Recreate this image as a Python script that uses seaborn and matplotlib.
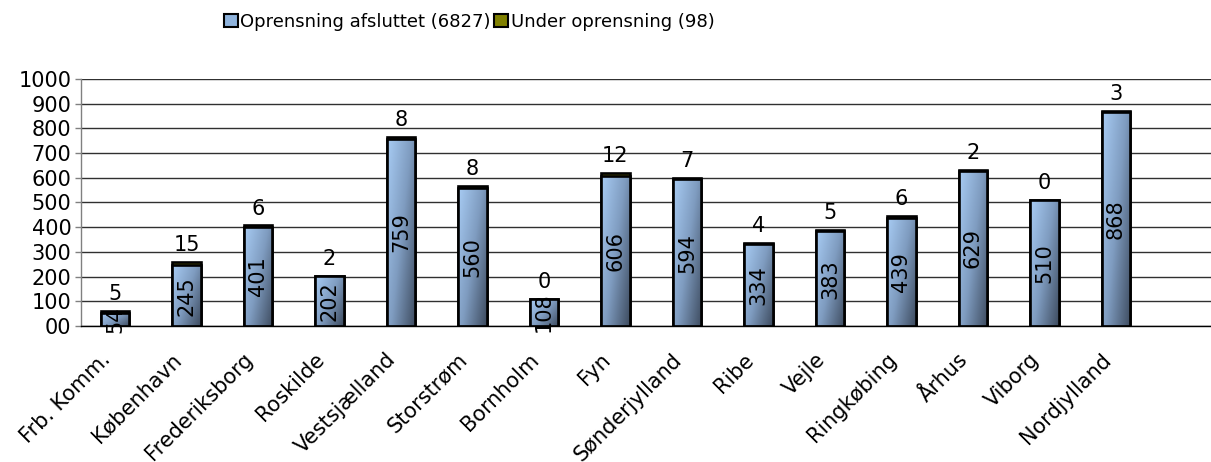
import numpy as np
import pandas as pd
import matplotlib
matplotlib.use("Agg")
import matplotlib.pyplot as plt
import matplotlib.transforms as mtransforms
import seaborn as sns
from matplotlib.patches import Patch

categories = ["Frb. Komm.", "København", "Frederiksborg", "Roskilde", "Vestsjælland",
              "Storstrøm", "Bornholm", "Fyn", "Sønderjylland", "Ribe", "Vejle",
              "Ringkøbing", "Århus", "Viborg", "Nordjylland"]
afsluttet = [54, 245, 401, 202, 759, 560, 108, 606, 594, 334, 383, 439, 629, 510, 868]
under = [5, 15, 6, 2, 8, 8, 0, 12, 7, 4, 5, 6, 2, 0, 3]
series_names = ["Oprensning afsluttet (6827)", "Under oprensning (98)"]
y_ticks = [0, 100, 200, 300, 400, 500, 600, 700, 800, 900, 1000]
y_tick_labels = ["00", "100", "200", "300", "400", "500", "600", "700", "800", "900", "1000"]

sns.set_theme(style="white")
plt.rcParams['font.family'] = ['DejaVu Sans']
plt.rcParams['text.color'] = 'black'
plt.rcParams['xtick.color'] = 'black'
plt.rcParams['ytick.color'] = 'black'
plt.rcParams['xtick.labelcolor'] = 'black'
plt.rcParams['ytick.labelcolor'] = 'black'

df = pd.DataFrame({"cat": categories, "done": afsluttet, "under": under})
df["total"] = df["done"] + df["under"]

fig = plt.figure(figsize=(12.11, 4.62), dpi=100)
ax = fig.add_axes([81/1211, 1-326/462, 1130/1211, (326-79)/462])

sns.barplot(data=df, x="cat", y="total", color="#808000", width=0.4, ax=ax,
            edgecolor="black", linewidth=1.9, saturation=1)
n = len(categories)
sns.barplot(data=df, x="cat", y="done", color="#8fb3dc", width=0.4, ax=ax,
            edgecolor="black", linewidth=1.9, saturation=1)

patches = ax.patches
tot_patches = patches[:n]
done_patches = patches[n:2*n]
for p in tot_patches:
    p.set_zorder(2)

# gradient
cmap = matplotlib.colors.LinearSegmentedColormap.from_list(
    "g", ["#a8ccf4", "#7f9cc0", "#3e4c60"])
uu, vv = np.meshgrid(np.linspace(0, 1, 40), np.linspace(0, 1, 200))
grad = 0.58 * uu + 0.42 * vv  # v=0 top
for p in done_patches:
    x0, y0 = p.get_x(), p.get_y()
    w, h = p.get_width(), p.get_height()
    im = ax.imshow(grad, cmap=cmap, vmin=0, vmax=1, aspect="auto",
                   extent=[x0, x0 + w, y0, y0 + h], origin="upper",
                   zorder=2.5, interpolation="bilinear")
    im.set_clip_path(p)
    p.set_facecolor((0, 0, 0, 0))
    p.set_zorder(3)

# labels
for i, p in enumerate(done_patches):
    cx = p.get_x() + p.get_width() / 2
    ax.text(cx, afsluttet[i] / 2, str(afsluttet[i]), rotation=90, ha="center",
            va="center", fontsize=15, color="black", zorder=5)
    ax.annotate(str(under[i]), (cx, afsluttet[i] + under[i]), xytext=(0, 5),
                textcoords="offset points", ha="center", va="bottom",
                fontsize=15, color="black", zorder=5)

ax.set_xlim(-0.475, 15.33)
ax.set_ylim(0, 1000)
ax.set_yticks(y_ticks)
ax.set_yticklabels(y_tick_labels, fontsize=15)
ax.yaxis.grid(True, color="#303030", linewidth=1)
ax.set_axisbelow(True)
ax.set_xlabel("")
ax.set_ylabel("")
ax.tick_params(axis="y", which="both", left=True, length=4, width=1, color="#808080", pad=3)
ax.tick_params(axis="x", bottom=False, pad=16)
shift = mtransforms.ScaledTranslation(-8/100, 0, fig.dpi_scale_trans)
for lbl in ax.get_xticklabels():
    lbl.set_rotation(45)
    lbl.set_ha("right")
    lbl.set_va("center")
    lbl.set_rotation_mode("anchor")
    lbl.set_fontsize(15)
    lbl.set_color("black")
    lbl.set_transform(lbl.get_transform() + shift)

for s in ["top", "right"]:
    ax.spines[s].set_visible(False)
ax.spines["left"].set_color("#808080")
ax.spines["left"].set_linewidth(1)
ax.spines["bottom"].set_color("black")
ax.spines["bottom"].set_linewidth(1)

handles = [Patch(facecolor="#8fb3dc", edgecolor="black", linewidth=1.5),
           Patch(facecolor="#808000", edgecolor="black", linewidth=1.5)]
leg = fig.legend(handles, series_names, loc="center left", bbox_to_anchor=(224/1211, 1-22/462),
                 ncol=2, frameon=False, fontsize=13, handlelength=0.75, handleheight=0.75,
                 handletextpad=0.15, columnspacing=0.2, borderpad=0, borderaxespad=0)
for t in leg.get_texts():
    t.set_color("black")

fig.savefig("out.png", dpi=100)
